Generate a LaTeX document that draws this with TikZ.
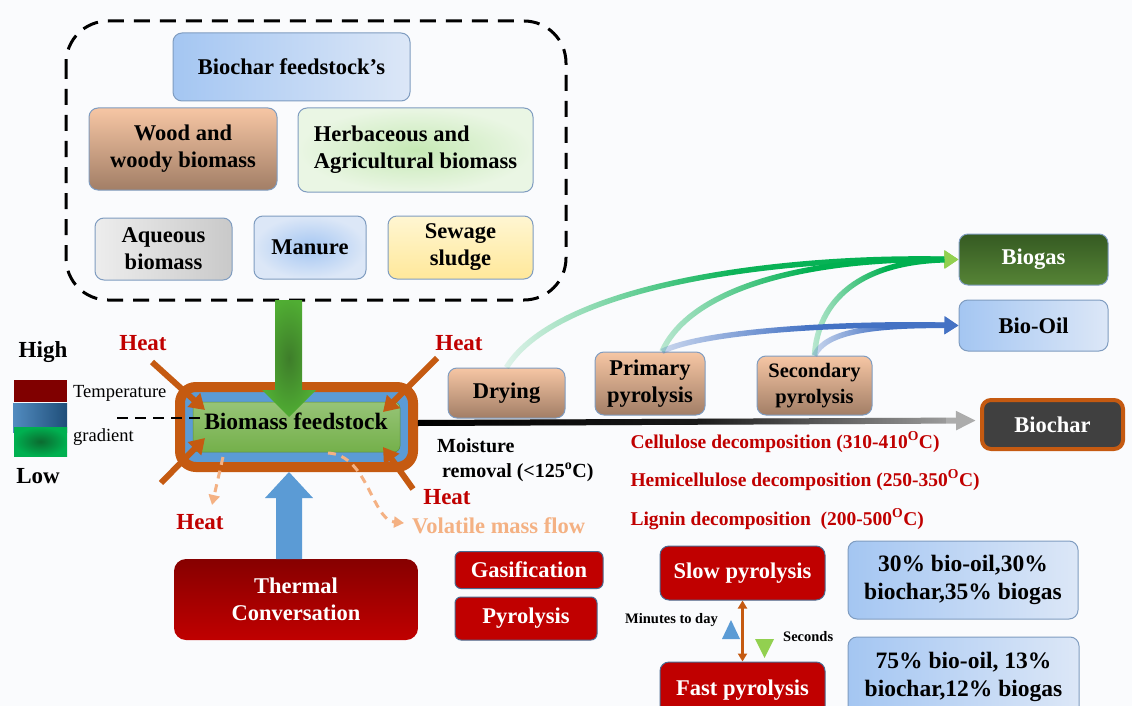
\documentclass[tikz,border=0pt]{standalone}
\usepackage{fontspec}
\setmainfont{Liberation Serif}
\usetikzlibrary{arrows.meta,fadings,calc,shapes.geometric}
\definecolor{bgc}{HTML}{FAFBFD}
\definecolor{bordc}{HTML}{7F9CC0}
\definecolor{redT}{HTML}{C00000}
\definecolor{drkred}{HTML}{800000}
\definecolor{orng}{HTML}{C55A11}
\definecolor{lorng}{HTML}{F4B183}
\definecolor{blueA}{HTML}{5B9BD5}
\definecolor{gfeed}{HTML}{74B04A}
\definecolor{gdark}{HTML}{3E7D2A}
\definecolor{gmid}{HTML}{5E9E3C}
\definecolor{lblue1}{HTML}{A4C6F2}
\definecolor{lblue2}{HTML}{DCE7F7}
\definecolor{peach1}{HTML}{F6C6A4}
\definecolor{peach2}{HTML}{A27E66}
\definecolor{lgreen1}{HTML}{C6E9B5}
\definecolor{lgreen2}{HTML}{EAF6E4}
\definecolor{gray1}{HTML}{EDEDED}
\definecolor{gray2}{HTML}{C9C9C9}
\definecolor{yel1}{HTML}{FFF6D2}
\definecolor{yel2}{HTML}{FFE89A}
\definecolor{biogas1}{HTML}{355A22}
\definecolor{biogas2}{HTML}{568436}
\definecolor{gline}{HTML}{00B050}
\definecolor{garrow}{HTML}{92D050}
\definecolor{bline}{HTML}{4472C4}
\definecolor{charc}{HTML}{404040}
\definecolor{slowb}{HTML}{4A6A90}
\newcommand\fsz[2]{\fontsize{#1}{#2}\selectfont}
\tikzfading[name=fadein, left color=transparent!90, right color=transparent!0, middle color=transparent!5]
\tikzfading[name=fadeinfast, left color=transparent!75, right color=transparent!0, middle color=transparent!0]
\tikzfading[name=fadeout, left color=transparent!0, right color=transparent!100, middle color=transparent!15]
\begin{document}
\begin{tikzpicture}[x=1pt,y=-1pt,
  bx/.style={draw=bordc, line width=1pt, rounded corners=9pt, align=center, inner sep=2pt,
     font=\bfseries\fsz{22.5}{27}},
  redbox/.style={bx, fill=redT, draw=slowb, text=white},
  heatarr/.style={draw=orng, line width=6pt, -{Triangle[length=15pt,width=18pt]}},
  vdash/.style={draw=lorng, line width=3pt, dash pattern=on 8pt off 6pt, -{Triangle[length=10pt,width=11pt]}},
  heatlbl/.style={text=redT, font=\bfseries\fsz{23}{26}},
  declbl/.style={text=redT, font=\bfseries\fsz{19.5}{23}, anchor=west},
  gcurve/.style={draw=gline, line width=5.5pt, path fading=fadein, -{Triangle[length=14pt,width=17pt,color=garrow]}},
  bcurve/.style={draw=bline, line width=5.5pt, path fading=fadein, -{Triangle[length=14pt,width=17pt]}},
]
\useasboundingbox[fill=bgc] (0,0) rectangle (1132,706);

% dashed feedstock container
\draw[line width=3pt, dash pattern=on 16pt off 10pt, rounded corners=42pt] (66,21) rectangle (566,300);

\node[bx, minimum width=237pt, minimum height=68pt, left color=lblue1, right color=lblue2] (feed) at (291.5,67) {Biochar feedstock's};
\node[bx, minimum width=188pt, minimum height=82pt, top color=peach1, bottom color=peach2] (wood) at (183,149) {Wood and\\woody biomass};
\node[bx, minimum width=235pt, minimum height=84pt, inner color=lgreen1, outer color=lgreen2, align=left] (herb) at (415.5,150) {Herbaceous and\\Agricultural biomass};
\node[bx, minimum width=137pt, minimum height=62pt, left color=gray1, right color=gray2] (aque) at (163.5,249) {Aqueous\\biomass};
\node[bx, minimum width=112pt, minimum height=63pt, inner color=lblue1, outer color=lblue2] (manure) at (310,247.5) {Manure};
\node[bx, minimum width=145pt, minimum height=63pt, top color=yel1, bottom color=yel2] (sewage) at (460.5,247.5) {Sewage\\sludge};

% legend
\node[font=\bfseries\fsz{23}{26}] (high) at (43,352) {High};
\node[font=\bfseries\fsz{23}{26}] (low) at (38,476) {Low};
\fill[drkred] (14,380) rectangle (67,402);
\shade[left color=blueA!90!black, right color={rgb,255:red,31;green,78;blue,121}] (13,403) rectangle (67,432);
\shade[inner color={rgb,255:red,11;green,107;blue,48}, outer color=gline] (14,427) rectangle (67,456);
\node[anchor=west, font=\fsz{18.5}{20}, inner sep=0pt] (temp) at (73,393) {Temperature};
\node[anchor=west, font=\fsz{18.5}{20}, inner sep=0pt] (grad) at (73,437) {gradient};

% reactor
\node[draw=orng, line width=10pt, fill=blueA, rounded corners=16pt, minimum width=233pt, minimum height=80pt] (reactor) at (296.5,427) {};
\node[draw=gfeed!80!black, line width=0.5pt, top color=gfeed!75!white, bottom color=gfeed, rounded corners=6pt, minimum width=207pt, minimum height=50pt] (feedstock) at (296.5,427) {};
\coordinate (dl1) at (117,418);
\coordinate (dl2) at (205,418);
\draw[line width=2.5pt, dash pattern=on 11pt off 7pt] (dl1) -- (dl2);

% green arrow from feedstocks
\shade[inner color=gdark, outer color=gmid!85!green] (275,300) -- (302,300) -- (302,390) -- (316,390) -- (289,417) -- (262,390) -- (275,390) -- cycle;
\node[font=\bfseries\fsz{23.5}{26}] (fstext) at (296,421) {Biomass feedstock};

% heat arrows
\coordinate (h1s) at (152,362); \coordinate (h1e) at (205,410);
\coordinate (h2s) at (437,358); \coordinate (h2e) at (383,412);
\coordinate (h3s) at (161,483); \coordinate (h3e) at (205,438);
\coordinate (h4s) at (413,489); \coordinate (h4e) at (383,447);
\draw[heatarr] (h1s) -- (h1e);
\draw[heatarr] (h2s) -- (h2e);
\draw[heatarr] (h3s) -- (h3e);
\draw[heatarr] (h4s) -- (h4e);
\node[heatlbl] (heat1) at (143,343) {Heat};
\node[heatlbl] (heat2) at (459,343) {Heat};
\node[heatlbl] (heat3) at (447,497) {Heat};
\node[heatlbl] (heat4) at (200,522) {Heat};

% volatile / heat dashed
\coordinate (v1s) at (223,457); \coordinate (v1e) at (212,505);
\coordinate (v2s) at (328,453); \coordinate (v2e) at (404,523);
\draw[vdash] (v1s) -- (v1e);
\draw[vdash] (v2s) .. controls (368,455) and (372,520) .. (v2e);
\node[anchor=west, text=lorng, font=\bfseries\fsz{22.5}{25}, inner sep=0pt] (vol) at (412,526) {Volatile mass flow};

% thermal conversation
\node[bx, draw=none, minimum width=244pt, minimum height=81pt, top color=drkred!90!redT, bottom color=redT, text=white, rounded corners=12pt] (thermal) at (296,599.5) {Thermal\\Conversation};
\fill[blueA] (276,559) -- (276,498) -- (265,498) -- (289,472) -- (313,498) -- (302,498) -- (302,559) -- cycle;
\node[redbox, minimum width=148pt, minimum height=37pt, rounded corners=6pt] (gasif) at (529,570) {Gasification};
\node[redbox, minimum width=142pt, minimum height=43pt, rounded corners=6pt] (pyro) at (526,618.5) {Pyrolysis};

% process boxes
\node[bx, minimum width=117pt, minimum height=50pt, top color=peach1, bottom color=peach2] (drying) at (506.5,393) {Drying};
\node[bx, minimum width=110pt, minimum height=63pt, top color=peach1, bottom color=peach2] (primary) at (650,383.5) {Primary\\pyrolysis};
\node[bx, minimum width=115pt, minimum height=59pt, top color=peach1, bottom color=peach2, font=\bfseries\fsz{20.5}{26}] (secondary) at (814.5,385.5) {Secondary\\pyrolysis};
\node[bx, minimum width=149pt, minimum height=51pt, top color=biogas1, bottom color=biogas2, text=white] (biogas) at (1033.5,259.5) {Biogas};
\node[bx, minimum width=149pt, minimum height=51pt, left color=lblue1, right color=lblue2] (biooil) at (1033.5,325.5) {Bio-Oil};
\node[bx, draw=orng, line width=4pt, fill=charc, text=white, minimum width=141pt, minimum height=49pt] (biochar) at (1052.5,424.5) {Biochar};

% curves to products
\draw[gcurve] (drying.north) .. controls (560,282) and (790,256) .. (biogas.west);
\draw[gcurve, path fading=fadeinfast] ($(primary.north)+(12,0)$) .. controls (690,290) and (800,258) .. (biogas.west);
\draw[gcurve, path fading=fadeinfast] (secondary.north) .. controls (818,300) and (860,262) .. (biogas.west);
\draw[bcurve, path fading=fadeinfast] ($(primary.north)+(12,0)$) .. controls (705,330) and (850,323) .. (biooil.west);
\draw[bcurve, path fading=fadeinfast] (secondary.north) .. controls (825,332) and (870,325) .. (biooil.west);

% biochar arrow
\draw[line width=6pt, draw=gray!65, -{Triangle[length=20pt,width=18pt]}] ($(reactor.east)+(0,-4)$) -- ($(biochar.west)+(-4,-4)$);
\draw[line width=6pt, draw=black, path fading=fadeout, shorten >=30pt] ($(reactor.east)+(0,-4)$) -- ($(biochar.west)+(-4,-4)$);
\node[anchor=west, align=left, font=\bfseries\fsz{20}{25}, inner sep=0pt] (moist) at (437,460) {Moisture\\\hspace{5pt}removal (<125\textsuperscript{o}C)};

% decomposition lines
\node[declbl] (cell) at (627,442) {Cellulose decomposition (310-410\textsuperscript{O}C)};
\node[declbl] (hemi) at (627,480) {Hemicellulose decomposition (250-350\textsuperscript{O}C)};
\node[declbl] (lign) at (627,519) {Lignin decomposition~ (200-500\textsuperscript{O}C)};

% slow / fast pyrolysis
\node[redbox, minimum width=165pt, minimum height=54pt] (slow) at (742.5,573) {Slow pyrolysis};
\node[redbox, minimum width=165pt, minimum height=56pt] (fast) at (742.5,690) {Fast pyrolysis};
\draw[draw=orng, line width=2.5pt, {Triangle[length=8pt,width=9pt]}-{Triangle[length=8pt,width=9pt]}] (slow.south) -- (fast.north);
\fill[blueA] (722,639) -- (740,639) -- (731,620) -- cycle;
\fill[garrow] (755,639) -- (774,639) -- (764.5,658) -- cycle;
\node[anchor=east, font=\bfseries\fsz{14.5}{17}, inner sep=0pt] (mintxt) at (718,620) {Minutes to day};
\node[anchor=west, font=\bfseries\fsz{14.5}{17}, inner sep=0pt] (sectxt) at (783,637) {Seconds};
\node[bx, minimum width=230pt, minimum height=78pt, left color=lblue1, right color=lblue2, font=\bfseries\fsz{23.5}{28}] (info1) at (963,580) {30\% bio-oil,30\%\\biochar,35\% biogas};
\node[bx, minimum width=231pt, minimum height=80pt, left color=lblue1, right color=lblue2, font=\bfseries\fsz{23.5}{28}] (info2) at (963.5,677) {75\% bio-oil, 13\%\\biochar,12\% biogas};
\end{tikzpicture}
\end{document}
